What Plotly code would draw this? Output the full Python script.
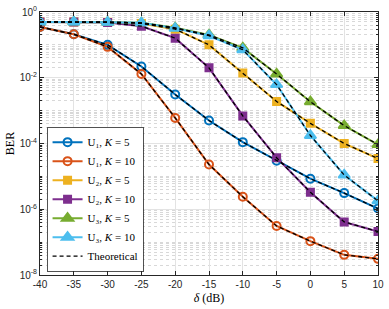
import plotly.graph_objects as go

delta = [-40, -35, -30, -25, -20, -15, -10, -5, 0, 5, 10]

u1_k5 = [0.35, 0.21, 0.10, 0.022, 3.1e-3, 5.0e-4, 1.1e-4, 3.0e-5, 8.5e-6, 3.1e-6, 1.05e-6]
u1_k10 = [0.35, 0.21, 0.087, 0.013, 6.0e-4, 2.3e-5, 2.4e-6, 3.1e-7, 1.07e-7, 4.1e-8, 3.1e-8]
u2_k5 = [0.5, 0.5, 0.49, 0.45, 0.30, 0.10, 0.014, 1.9e-3, 4.1e-4, 1.0e-4, 3.5e-5]
u2_k10 = [0.5, 0.5, 0.48, 0.37, 0.16, 0.02, 6.9e-4, 3.7e-5, 3.3e-6, 4.1e-7, 2.1e-7]
u3_k5 = [0.5, 0.5, 0.49, 0.47, 0.33, 0.20, 0.081, 0.013, 1.86e-3, 3.5e-4, 9.3e-5]
u3_k10 = [0.5, 0.5, 0.49, 0.47, 0.32, 0.19, 0.071, 6.2e-3, 1.75e-4, 1.1e-5, 1.8e-6]

series = [
    ("U₁, <i>K</i> = 5", u1_k5, "#0072BD", "circle-open", 8),
    ("U₁, <i>K</i> = 10", u1_k10, "#D95319", "circle-open", 8),
    ("U₂, <i>K</i> = 5", u2_k5, "#EDB120", "square", 7),
    ("U₂, <i>K</i> = 10", u2_k10, "#7E2F8E", "square", 7),
    ("U₃, <i>K</i> = 5", u3_k5, "#77AC30", "triangle-up", 10),
    ("U₃, <i>K</i> = 10", u3_k10, "#4DBEEE", "triangle-up", 10),
]

fig = go.Figure()
for name, ys, col, sym, sz in series:
    fig.add_trace(go.Scatter(
        x=delta, y=ys, name=name, mode="lines+markers",
        line=dict(color=col, width=2),
        marker=dict(symbol=sym, size=sz, color=col, line=dict(color=col, width=2)),
    ))
for i, (name, ys, col, sym, sz) in enumerate(series):
    fig.add_trace(go.Scatter(
        x=delta, y=ys, name="Theoretical", mode="lines",
        line=dict(color="black", width=1.3, dash="4px,3px"),
        showlegend=(i == 0),
    ))

major = [10.0 ** e for e in range(-8, 1, 2)]
major_text = ["10<sup>%d</sup>" % e for e in range(-8, 1, 2)]
minor_vals = [k * 10.0 ** e for e in range(-8, 0) for k in range(2, 11)]

fig.update_layout(
    width=389, height=309,
    margin=dict(l=40, r=6, t=5, b=34),
    paper_bgcolor="white", plot_bgcolor="white",
    font=dict(family="Liberation Sans, Arial", size=10, color="#262626"),
    showlegend=True,
    legend=dict(
        x=0.02, y=0.012, xanchor="left", yanchor="bottom",
        bgcolor="white", bordercolor="#262626", borderwidth=0.8,
        font=dict(family="Liberation Serif, DejaVu Serif, serif", size=11, color="#000000"),
        tracegroupgap=0,
    ),
    xaxis=dict(
        range=[-40, 10], tickvals=list(range(-40, 11, 5)),
        ticktext=[str(v) for v in range(-40, 11, 5)],
        ticks="inside", ticklen=4, tickcolor="#262626",
        showline=True, linecolor="#262626", linewidth=1, mirror="ticks",
        showgrid=True, gridcolor="#e3e3e3", gridwidth=1,
        zeroline=False, ticklabeloverflow="allow",
        title=dict(text="<i>δ</i> (dB)", font=dict(family="Liberation Serif, serif", size=12, color="#000000"), standoff=4),
    ),
    yaxis=dict(
        type="log", range=[-8, 0],
        tickvals=major, ticktext=major_text,
        ticks="inside", ticklen=4, tickcolor="#262626",
        showline=True, linecolor="#262626", linewidth=1, mirror="ticks",
        showgrid=True, gridcolor="#e3e3e3", gridwidth=1,
        zeroline=False, ticklabeloverflow="allow",
        minor=dict(tickvals=minor_vals, ticks="inside", ticklen=2, tickcolor="#262626",
                   showgrid=True, gridcolor="#d8d8d8", griddash="dot", gridwidth=1),
        title=dict(text="BER", font=dict(family="Liberation Serif, serif", size=12, color="#000000"), standoff=2),
    ),
)

fig.write_html("out.html", config={"displayModeBar": False},
               post_script="document.body.style.margin='0';document.body.style.overflow='hidden';")
